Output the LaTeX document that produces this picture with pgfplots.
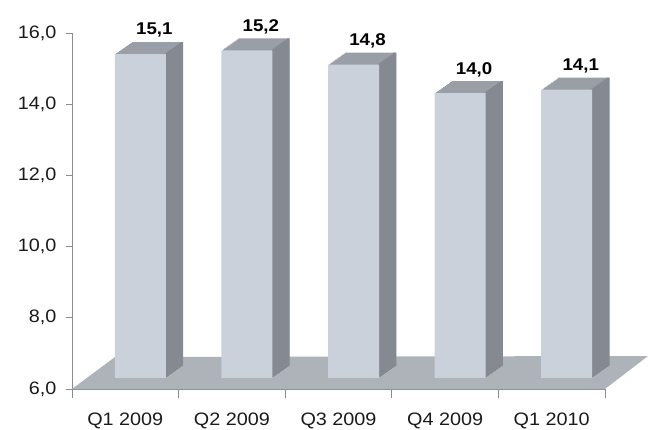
\documentclass[border=0pt]{standalone}
\usepackage{pgfplots}
\pgfplotsset{compat=1.18}
\usepackage{pgfplotstable}
\usepackage{fontspec}
\setmainfont{Liberation Sans}[FakeStretch=1.1]

\definecolor{barfront}{HTML}{CBD1DB}
\definecolor{bartop}{HTML}{9A9EA6}
\definecolor{barside}{HTML}{858992}
\definecolor{floorc}{HTML}{AEB2B9}
\definecolor{flooredge}{HTML}{8F939A}
\definecolor{axisgray}{HTML}{8C8C8C}
\definecolor{txt}{HTML}{1A1A1A}

\pgfplotsset{/pgf/number format/.cd, fixed, fixed zerofill, precision=1, use comma, assume math mode=true}

\pgfplotstableread{
idx val
0 15.1
1 15.2
2 14.8
3 14.0
4 14.1
}\datatable

\begin{document}
\begin{tikzpicture}
\begin{axis}[
  at={(72bp,41bp)}, anchor=south west,
  scale only axis, width=533bp, height=356bp,
  xmin=-0.5, xmax=4.5, ymin=6, ymax=16,
  y coord trafo/.code={\pgfmathparse{#1-6}},
  y coord inv trafo/.code={\pgfmathparse{#1+6}},
  clip=false,
  axis x line*=bottom, axis y line*=left,
  axis line style={draw=axisgray, line width=0.8bp},
  x axis line style={draw=none},
  ytick={6,8,10,12,14,16},
  tick align=outside,
  major tick length=6bp,
  ytick style={draw=axisgray, line width=0.8bp},
  yticklabel style={font=\fontsize{18bp}{21bp}\selectfont, text=txt, xshift=-6bp},
  xtick={0,1,2,3,4},
  xticklabels={Q1 2009,Q2 2009,Q3 2009,Q4 2009,Q1 2010},
  xtick style={draw=none},
  xticklabel style={font=\fontsize{18bp}{21bp}\selectfont, text=txt, yshift=-14bp},
  extra x ticks={-0.5,0.5,1.5,2.5,3.5,4.5},
  extra x tick labels={},
  extra x tick style={xtick style={draw=axisgray, line width=0.8bp}, major tick length=9bp},
]
% floor
\fill[floorc] (axis cs:-0.5,6) -- (axis cs:4.5,6) -- ([shift={(43bp,33bp)}]axis cs:4.5,6) -- ([shift={(43bp,32bp)}]axis cs:-0.5,6) -- cycle;
% top faces (extrusion)
\pgfplotsinvokeforeach{1,...,12}{
  \addplot[ybar, bar shift=0pt, bar width=51bp, fill=bartop, draw=none,
    xshift={15bp+17bp*#1/12}, yshift={11bp+12bp*#1/12}]
    table[x=idx, y=val]{\datatable};
}
% side faces
\pgfplotsinvokeforeach{1,...,12}{
  \addplot[ybar, bar shift=24.5bp, bar width=2.6bp, fill=barside, draw=none,
    xshift={15bp+17bp*#1/12}, yshift={11bp+12bp*#1/12}]
    table[x=idx, y=val]{\datatable};
}
% front faces with labels
\addplot[ybar, bar shift=0pt, bar width=51bp, fill=barfront, draw=none,
  xshift=15bp, yshift=11bp,
  point meta=explicit,
  nodes near coords={\pgfmathprintnumber{\pgfplotspointmeta}},
  every node near coord/.append style={font=\bfseries\fontsize{17bp}{20bp}\selectfont, text=black, anchor=south, xshift=14bp, yshift=13bp}]
  table[x=idx, y=val, meta=val]{\datatable};
% floor front edge
\draw[flooredge, line width=1bp] (axis cs:-0.5,6) -- (axis cs:4.5,6);
\end{axis}
\pgfresetboundingbox
\path (0,0) rectangle (648bp,430bp);
\end{tikzpicture}
\end{document}
